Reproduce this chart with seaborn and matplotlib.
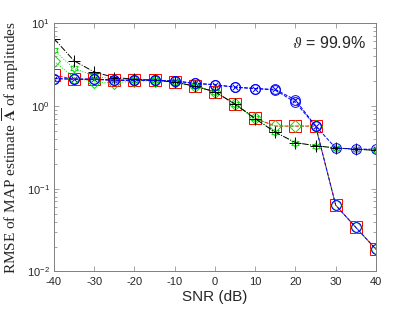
import matplotlib
matplotlib.use("Agg")
import matplotlib.pyplot as plt
import numpy as np
import pandas as pd
import seaborn as sns

# SNR grid (dB)
snr = [-40, -35, -30, -25, -20, -15, -10, -5, 0, 5, 10, 15, 20, 25, 30, 35, 40]

# RMSE values
rmse_square = [2.35, 2.1, 2.1, 2.04, 2.04, 2.04, 1.94, 1.73, 1.48, 1.05, 0.705,
               0.57, 0.57, 0.57, 0.063, 0.034, 0.0185]
rmse_diamond = [3.45, 2.2, 1.95, 1.88, 2.0, 2.0, 1.94, 1.73, 1.48, 1.05, 0.705,
                0.57, 0.57, 0.57, 0.063, 0.034, 0.0185]
rmse_hexagram = [4.7, 2.83, 2.3, 2.1, 2.04, 2.04, 1.94, 1.73, 1.48, 1.05, 0.705,
                 0.48, 0.36, 0.33, 0.31, 0.30, 0.29]
rmse_plus = [6.5, 3.5, 2.57, 2.2, 2.1, 2.04, 1.94, 1.73, 1.48, 1.05, 0.70,
             0.48, 0.36, 0.33, 0.31, 0.30, 0.29]
rmse_circle = [2.14, 2.1, 2.1, 2.04, 2.04, 2.04, 2.0, 1.87, 1.8, 1.68, 1.62,
               1.55, 1.1, 0.57, 0.063, 0.034, 0.0185]
rmse_otimes = [2.14, 2.1, 2.1, 2.04, 2.04, 2.04, 2.0, 1.87, 1.8, 1.68, 1.62,
               1.58, 1.18, 0.57, 0.31, 0.30, 0.30]

theta_text = r"$\vartheta$ = 99.9%"

sns.set_theme(style="ticks")
plt.rcParams["font.family"] = ["Liberation Sans", "DejaVu Sans"]
plt.rcParams["mathtext.fontset"] = "dejavusans"
plt.rcParams["axes.unicode_minus"] = False

# hexagram marker (star of David shape)
ang = np.deg2rad(90 + np.arange(12) * 30)
rad = np.where(np.arange(12) % 2 == 0, 1.0, 0.58)
hexagram = list(zip(rad * np.cos(ang), rad * np.sin(ang)))

fig = plt.figure(figsize=(4.15, 3.12), dpi=100)
ax = fig.add_axes([0.130, 0.130, 0.776, 0.796])

common = dict(errorbar=None, ax=ax, linewidth=0.7, markeredgewidth=0.7,
              markerfacecolor="none", legend=False)
green = "#00e000"

sns.lineplot(x=snr, y=rmse_square, color="red", linestyle="--", marker="s",
             markersize=8, markeredgecolor="red", **common)
sns.lineplot(x=snr, y=rmse_diamond, color=green, linestyle=":", marker="D",
             markersize=6, markeredgecolor=green, **common)
sns.lineplot(x=snr, y=rmse_hexagram, color=green, linestyle=":", marker=hexagram,
             markersize=6, markeredgecolor=green, **common)
sns.lineplot(x=snr, y=rmse_plus, color="black", linestyle="-.", marker="+",
             markersize=9, markeredgecolor="black", **common)
sns.lineplot(x=snr, y=rmse_circle, color="blue", linestyle="--", marker="o",
             markersize=7, markeredgecolor="blue", **common)
sns.lineplot(x=snr, y=rmse_otimes, color="blue", linestyle="--", marker="o",
             markersize=7, markeredgecolor="blue", **common)
sns.scatterplot(x=snr, y=rmse_otimes, ax=ax, marker="x", color="blue", s=16,
                linewidth=0.7, legend=False)

ax.set_yscale("log")
ax.set_xlim(-40, 40)
ax.set_ylim(1e-2, 1e1)
ax.set_xticks(range(-40, 41, 10))

for side in ["left", "right", "top", "bottom"]:
    ax.spines[side].set_visible(True)
    ax.spines[side].set_color("#808080")
    ax.spines[side].set_linewidth(0.7)
ax.tick_params(which="both", direction="in", top=True, right=True,
               color="#808080", labelcolor="#262626", labelsize=8, width=0.5)
ax.tick_params(which="major", length=3.5)
ax.tick_params(which="minor", length=2)
ax.tick_params(axis="x", pad=4)
ax.tick_params(axis="y", pad=3)

ax.set_xlabel("SNR (dB)", fontsize=11, labelpad=2)
ax.set_ylabel(r"RMSE of MAP estimate $\overline{\mathbf{A}}$ of amplitudes",
              fontsize=11, family=["Liberation Serif", "DejaVu Serif"], labelpad=4,
              math_fontfamily="stix")

ax.text(0.97, 0.92, theta_text, transform=ax.transAxes, ha="right", va="center",
        fontsize=11.5, math_fontfamily="stix")

fig.savefig("out.png", dpi=100)
